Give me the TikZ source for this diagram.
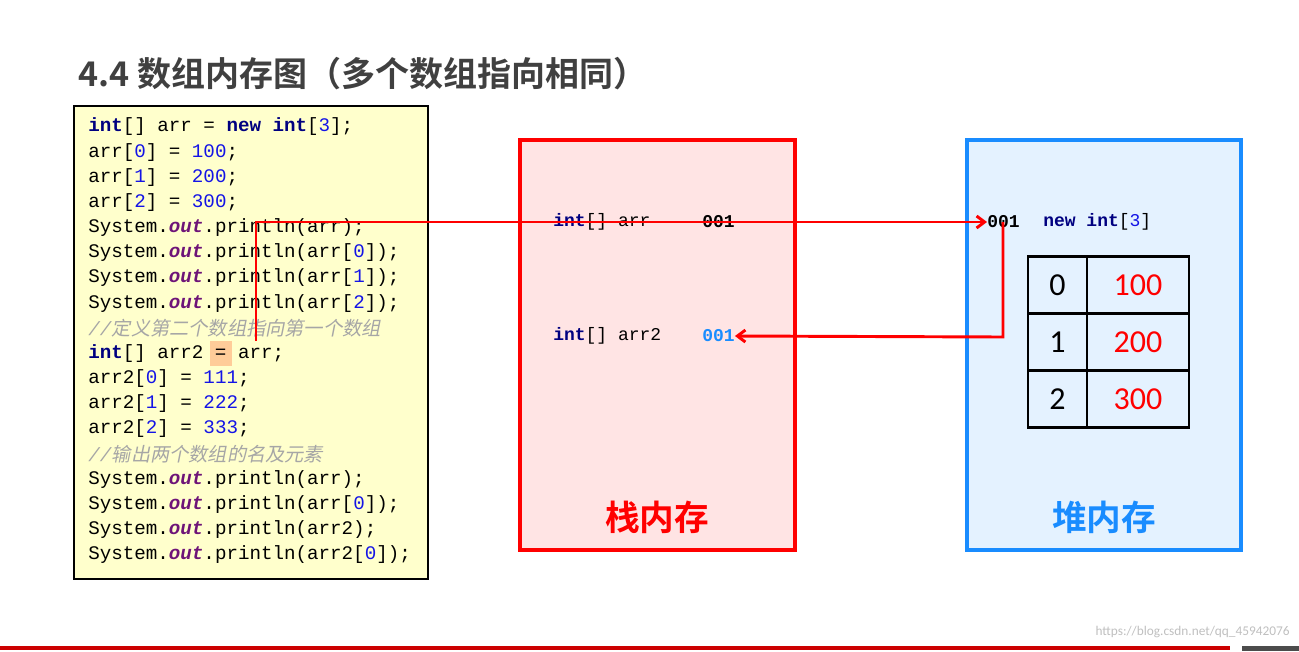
\documentclass[tikz,border=0pt]{standalone}
\usepackage{fontspec}
\setmonofont{Liberation Mono}
\setsansfont{Carlito}
\newfontfamily\cjk{Noto Sans CJK SC}
\newfontfamily\cjkb{Noto Sans CJK SC Bold}
\newfontfamily\cjki[FakeSlant=0.2]{Noto Sans CJK SC}
\usetikzlibrary{positioning,arrows.meta}
\definecolor{kwblue}{RGB}{0,0,128}
\definecolor{numblue}{RGB}{20,20,230}
\definecolor{outpurple}{RGB}{110,20,120}
\definecolor{codebg}{RGB}{255,255,204}
\definecolor{stackbg}{RGB}{255,228,228}
\definecolor{heapbg}{RGB}{228,242,255}
\definecolor{heapblue}{RGB}{25,140,255}
\definecolor{memred}{RGB}{255,0,0}
\newcommand{\kw}[1]{\textbf{\color{kwblue}#1}}
\newcommand{\nm}[1]{{\color{numblue}#1}}
\newcommand{\ot}{\textbf{\textit{\color{outpurple}out}}}
\newcommand{\cm}[1]{{\color{black!35}\textit{//}\cjki #1}}
\begin{document}
\begin{tikzpicture}[x=0.75pt,y=-0.75pt,
  codeline/.style={anchor=west,inner sep=0pt,font=\ttfamily\fontsize{14.4}{14.4}\selectfont},
  memtext/.style={anchor=west,inner sep=0pt,font=\ttfamily\fontsize{13.5}{13.5}\selectfont},
  memtitle/.style={font=\cjkb\fontsize{26}{26}\selectfont},
  cell/.style={draw,line width=2.2pt,minimum width=44.25pt,minimum height=42.75pt,inner sep=0pt,font=\fontsize{24}{24}\selectfont\sffamily},
  link/.style={memred,line width=2.2pt,-{Straight Barb[length=6pt,width=9pt]}}]
\useasboundingbox (0,0) rectangle (1299,651);
% title
\node[anchor=west,inner sep=0pt,font=\cjkb\fontsize{25.5}{25.5}\selectfont,text=black!75] (title) at (78,74) {4.4 数组内存图（多个数组指向相同）};
% code
\draw[fill=codebg,line width=1.2pt] (74,106) rectangle (428,579);
\fill[orange!40] (210,341) rectangle (232,366);
\foreach \t [count=\i from 0] in {
  {\kw{int}[] arr = \kw{new} \kw{int}[\nm{3}];},
  {arr[\nm{0}] = \nm{100};},
  {arr[\nm{1}] = \nm{200};},
  {arr[\nm{2}] = \nm{300};},
  {System.\ot.println(arr);},
  {System.\ot.println(arr[\nm{0}]);},
  {System.\ot.println(arr[\nm{1}]);},
  {System.\ot.println(arr[\nm{2}]);},
  {\cm{定义第二个数组指向第一个数组}},
  {\kw{int}[] arr2 = arr;},
  {arr2[\nm{0}] = \nm{111};},
  {arr2[\nm{1}] = \nm{222};},
  {arr2[\nm{2}] = \nm{333};},
  {\cm{输出两个数组的名及元素}},
  {System.\ot.println(arr);},
  {System.\ot.println(arr[\nm{0}]);},
  {System.\ot.println(arr2);},
  {System.\ot.println(arr2[\nm{0}]);}}
  \node[codeline] (code\i) at (88,{127+25.15*\i}) {\t};
% stack
\draw[fill=stackbg,draw=memred,line width=3pt] (520,140) rectangle (795,550);
\node[memtitle,text=memred] (stack) at (657,517) {栈内存};
\node[memtext] (arrname) at (553,222) {\kw{int}[] arr};
\node[memtext] (arrval) at (702,222) {\textbf{001}};
\node[memtext] (arr2name) at (553,336) {\kw{int}[] arr2};
\node[memtext] (arr2val) at (702,336) {\textbf{\color{heapblue}001}};
% heap
\draw[fill=heapbg,draw=heapblue,line width=3pt] (967,140) rectangle (1241,550);
\node[memtitle,text=heapblue] (heap) at (1104,517) {堆内存};
\node[memtext] (addr) at (987,222) {\textbf{001}};
\node[memtext] (newarr) at (1043,222) {\kw{new} \kw{int}[\nm{3}]};
\foreach \v [count=\i from 0] in {100,200,300}{
  \node[cell] (idx\i) at (1057.5,{285+57*\i}) {\i};
  \node[cell,minimum width=76.5pt,text=memred] (val\i) at (1138,{285+57*\i}) {\v};
}
% links
\coordinate (src) at (256,341);
\coordinate (bend1) at (256,222);
\coordinate (bend2) at (1003,222);
\coordinate (bend3) at (1003,337);
\draw[link] (src) -- (bend1) -- (addr.west);
\draw[link] (bend2) -- (bend3) -- (arr2val.east);
% footer
\node[anchor=east,inner sep=0pt,font=\sffamily\fontsize{10}{10}\selectfont,text=black!25] (mark) at (1290,632) {https://blog.csdn.net/qq\_45942076};
\fill[red!80!black] (0,646) rectangle (1230,650);
\fill[black!70] (1242,646) rectangle (1299,651);
\end{tikzpicture}
\end{document}
